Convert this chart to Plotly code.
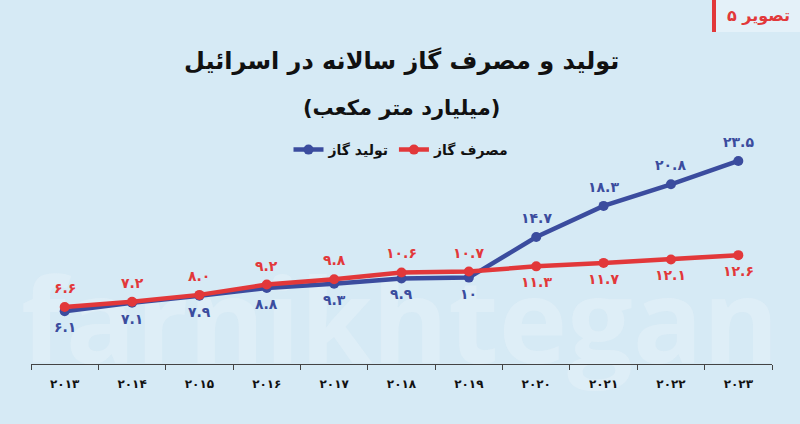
import plotly.graph_objects as go

years = [2013, 2014, 2015, 2016, 2017, 2018, 2019, 2020, 2021, 2022, 2023]
production = [6.1, 7.1, 7.9, 8.8, 9.3, 9.9, 10.0, 14.7, 18.3, 20.8, 23.5]
consumption = [6.6, 7.2, 8.0, 9.2, 9.8, 10.6, 10.7, 11.3, 11.7, 12.1, 12.6]
# label side: +1 above the point, -1 below
production_side = [-1, -1, -1, -1, -1, -1, -1, 1, 1, 1, 1]
consumption_side = [1, 1, 1, 1, 1, 1, 1, -1, -1, -1, -1]

title = "تولید و مصرف گاز سالانه در اسرائیل"
subtitle = "(میلیارد متر مکعب)"
name_prod = "تولید گاز"
name_cons = "مصرف گاز"
tag_text = "تصویر ۵"

BLUE = "#3b4c9e"
RED = "#e2383a"
BG = "#d6eaf5"
FONT = "DejaVu Sans"

FA = str.maketrans("0123456789", "۰۱۲۳۴۵۶۷۸۹")


def fa_num(v):
    s = f"{v:.1f}"
    if s.endswith(".0") and v >= 10:
        s = s[:-2]
    return s.translate(FA)


fig = go.Figure()
fig.add_trace(go.Scatter(
    x=years, y=production, name=name_prod, mode="lines+markers",
    line=dict(color=BLUE, width=4.5), marker=dict(size=10, color=BLUE),
))
fig.add_trace(go.Scatter(
    x=years, y=consumption, name=name_cons, mode="lines+markers",
    line=dict(color=RED, width=4.5), marker=dict(size=10, color=RED),
))

annotations = []
for ys, sides, col in [(production, production_side, BLUE),
                       (consumption, consumption_side, RED)]:
    for x, y, s in zip(years, ys, sides):
        annotations.append(dict(
            x=x, y=y, xref="x", yref="y", text=fa_num(y), showarrow=False,
            yshift=19 if s > 0 else -16,
            font=dict(family=FONT, size=14, color=col, weight="bold"),
        ))

# plot area: x 31..772 px, y 130..364 px
PW, PH, T = 741.0, 234.0, 130.0


def py(pix):
    return 1 + (T - pix) / PH


def px(pix):
    return (pix - 31) / PW


annotations += [
    dict(x=0.5, y=py(61), xref="paper", yref="paper", text=title, showarrow=False,
         xanchor="center", yanchor="middle",
         font=dict(family=FONT, size=24, color="#111111", weight="bold")),
    dict(x=0.5, y=py(108), xref="paper", yref="paper", text=subtitle, showarrow=False,
         xanchor="center", yanchor="middle",
         font=dict(family=FONT, size=21, color="#111111", weight="bold")),
    dict(x=px(792), y=py(16), xref="paper", yref="paper", text=tag_text, showarrow=False,
         xanchor="right", yanchor="middle",
         font=dict(family=FONT, size=16, color=RED, weight="bold")),
]

shapes = [
    dict(type="rect", xref="paper", yref="paper", x0=px(712), x1=px(800), y0=py(0), y1=py(32),
         fillcolor="#e4f1f9", line=dict(width=0), layer="below"),
    dict(type="rect", xref="paper", yref="paper", x0=px(712), x1=px(716), y0=py(0), y1=py(32),
         fillcolor=RED, line=dict(width=0), layer="above"),
    dict(type="rect", xref="paper", yref="paper", x0=px(0), x1=px(800), y0=py(280), y1=py(372),
         fillcolor="rgba(0,0,0,0)", line=dict(width=0), layer="below",
         label=dict(text="farnikhtegan",
                    font=dict(family="Open Sans", size=116, color="rgba(236,245,251,0.38)",
                              weight="bold"),
                    textposition="middle center")),
]

boundaries = [y - 0.5 for y in years] + [years[-1] + 0.5]

fig.update_layout(
    width=800, height=424,
    margin=dict(l=31, r=28, t=130, b=60),
    paper_bgcolor=BG, plot_bgcolor=BG,
    showlegend=True,
    legend=dict(orientation="h", x=0.5, xanchor="center", y=py(150), yanchor="middle",
                bgcolor="rgba(0,0,0,0)", itemwidth=30,
                font=dict(family=FONT, size=14, color="#111111", weight="bold")),
    annotations=annotations,
    shapes=shapes,
)
fig.update_xaxes(
    range=[years[0] - 0.5, years[-1] + 0.5],
    tickmode="array", tickvals=years, ticktext=[str(y).translate(FA) for y in years],
    ticks="", ticklabelstandoff=8,
    minor=dict(tickmode="array", tickvals=boundaries, ticks="outside", ticklen=5,
               tickcolor="#444444", showgrid=False),
    showline=True, linecolor="#444444", linewidth=1.2, showgrid=False, zeroline=False,
    tickfont=dict(family=FONT, size=12, color="#111111", weight="bold"),
)
fig.update_yaxes(range=[0, PH / 8.64], visible=False, showgrid=False, zeroline=False)

fig.write_html("out.html", config={"displayModeBar": False},
               post_script="document.body.style.margin='0';")
